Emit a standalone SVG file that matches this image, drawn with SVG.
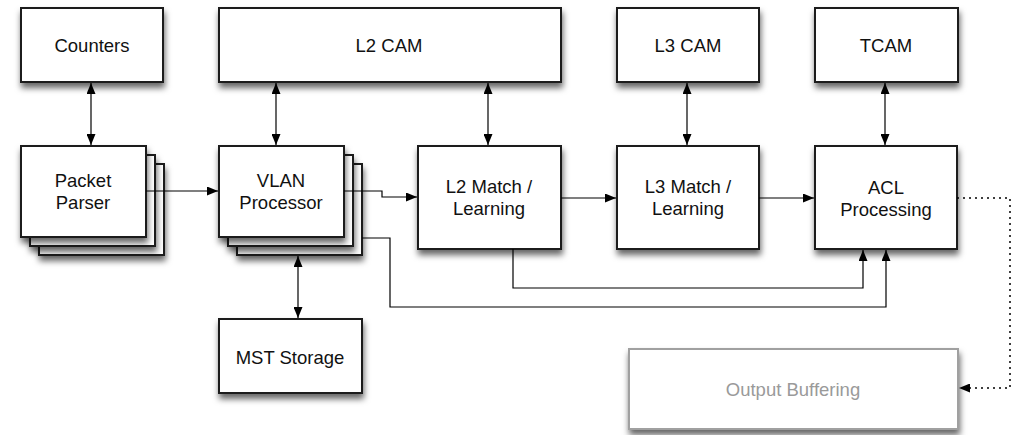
<svg xmlns="http://www.w3.org/2000/svg" width="1018" height="435" viewBox="0 0 1018 435">
<defs>
<filter id="sh" x="-20%" y="-20%" width="140%" height="150%">
<feDropShadow dx="1" dy="5" stdDeviation="3" flood-color="#000" flood-opacity="0.6"/>
</filter>
<marker id="ah" markerUnits="userSpaceOnUse" markerWidth="12" markerHeight="9" refX="11" refY="4.5" orient="auto-start-reverse">
<path d="M0,0 L11,4.5 L0,9 z" fill="#000"/>
</marker>
</defs>
<style>
.box{fill:#fff;stroke:#1a1a1a;stroke-width:2;filter:url(#sh)}
.gbox{fill:#fff;stroke:#a0a0a0;stroke-width:2;filter:url(#sh)}
.t{font-family:"Liberation Sans",Arial,sans-serif;font-size:18.5px;fill:#111;text-anchor:middle;dominant-baseline:central}
.gt{fill:#9a9a9a}
.c{fill:none;stroke:#000;stroke-width:1.2}
.d{fill:none;stroke:#000;stroke-width:1.5;stroke-dasharray:2 4}
</style>
<rect width="1018" height="435" fill="#fff"/>
<g id="counters"><rect class="box" x="21" y="8" width="142" height="74"/><text class="t" x="92" y="45">Counters</text></g>
<g id="l2cam"><rect class="box" x="219" y="8" width="342" height="74"/><text class="t" x="389" y="45">L2 CAM</text></g>
<g id="l3cam"><rect class="box" x="617" y="8" width="142" height="74"/><text class="t" x="688" y="45">L3 CAM</text></g>
<g id="tcam"><rect class="box" x="815" y="8" width="143" height="74"/><text class="t" x="886" y="45">TCAM</text></g>
<g id="packet-parser">
<rect class="box" x="39" y="164" width="125" height="91"/>
<rect class="box" x="30" y="155" width="125" height="91"/>
<rect class="box" x="21" y="146" width="125" height="91"/>
<text class="t" x="83" y="180">Packet</text><text class="t" x="83" y="202">Parser</text>
</g>
<g id="vlan-processor">
<rect class="box" x="237" y="164" width="125" height="91"/>
<rect class="box" x="228" y="155" width="125" height="91"/>
<rect class="box" x="219" y="146" width="125" height="91"/>
<text class="t" x="281" y="180">VLAN</text><text class="t" x="281" y="202">Processor</text>
</g>
<g id="l2match"><rect class="box" x="418" y="146" width="143" height="103"/><text class="t" x="489" y="186">L2 Match /</text><text class="t" x="489" y="208">Learning</text></g>
<g id="l3match"><rect class="box" x="617" y="146" width="142" height="103"/><text class="t" x="688" y="186">L3 Match /</text><text class="t" x="688" y="208">Learning</text></g>
<g id="acl"><rect class="box" x="815" y="146" width="142" height="103"/><text class="t" x="886" y="187">ACL</text><text class="t" x="886" y="209">Processing</text></g>
<g id="mst"><rect class="box" x="219" y="319" width="143" height="74"/><text class="t" x="290" y="357">MST Storage</text></g>
<g id="output-buffering"><rect class="gbox" x="629" y="349" width="329" height="80"/><text class="t gt" x="793" y="389">Output Buffering</text></g>
<g id="connectors">
<line class="c" x1="91" y1="83" x2="91" y2="145" marker-start="url(#ah)" marker-end="url(#ah)"/>
<line class="c" x1="276" y1="83" x2="276" y2="145" marker-start="url(#ah)" marker-end="url(#ah)"/>
<line class="c" x1="488" y1="83" x2="488" y2="145" marker-start="url(#ah)" marker-end="url(#ah)"/>
<line class="c" x1="687" y1="83" x2="687" y2="145" marker-start="url(#ah)" marker-end="url(#ah)"/>
<line class="c" x1="885" y1="83" x2="885" y2="145" marker-start="url(#ah)" marker-end="url(#ah)"/>
<line class="c" x1="298" y1="256" x2="298" y2="318" marker-start="url(#ah)" marker-end="url(#ah)"/>
<line class="c" x1="146" y1="191" x2="218" y2="191" marker-end="url(#ah)"/>
<polyline class="c" points="344,191 382,191 382,197 417,197" marker-end="url(#ah)"/>
<line class="c" x1="561" y1="198" x2="616" y2="198" marker-end="url(#ah)"/>
<line class="c" x1="759" y1="198" x2="814" y2="198" marker-end="url(#ah)"/>
<polyline class="c" points="513,249 513,288 863,288 863,250" marker-end="url(#ah)"/>
<polyline class="c" points="362,238 390,238 390,307 886,307 886,250" marker-end="url(#ah)"/>
<polyline class="d" points="957,198 1010,198 1010,388 959,388" marker-end="url(#ah)"/>
</g>
</svg>
